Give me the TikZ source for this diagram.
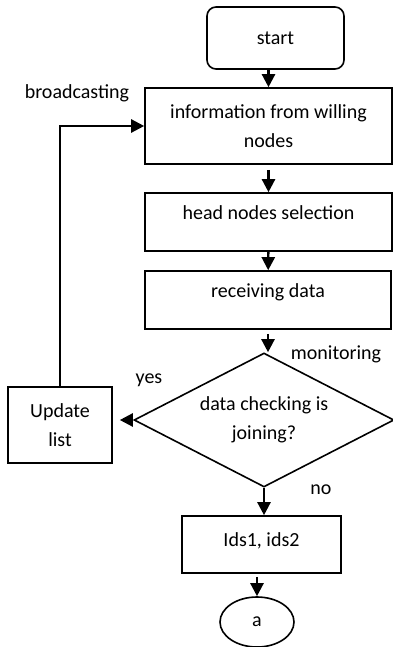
\documentclass[tikz,border=0pt]{standalone}
\usepackage{fontspec}
\setmainfont{Carlito}
\usetikzlibrary{arrows.meta, positioning, shapes.geometric}

\begin{document}
\begin{tikzpicture}[x=1pt, y=-1pt,
  box/.style={draw, line width=1.6pt, inner sep=0pt, align=center,
              font=\fontsize{20}{29}\selectfont},
  lbl/.style={font=\fontsize{20}{29}\selectfont, inner sep=0pt},
  flow/.style={line width=2.4pt, -{Triangle[length=13pt, width=13pt]}}]
\useasboundingbox (0,0) rectangle (393,647);
%%── Main column ─────────────────────────────────────────
\node[box, rounded corners=9pt, minimum width=137pt, minimum height=62pt]
     (start) at (275.5,38) {start};
\node[box, minimum width=247pt, minimum height=76pt]
     (info) at (268.5,126) {information from willing\\nodes};
\node[box, minimum width=247pt, minimum height=58pt, text depth=18pt]
     (head) at (268.5,222) {head nodes selection};
\node[box, minimum width=246pt, minimum height=58pt, text depth=18pt]
     (recv) at (268,300) {receiving data};
\node[box, diamond, aspect=1.94, minimum width=260pt, minimum height=134pt]
     (check) at (264,420) {data checking is\\joining?};
\node[box, minimum width=159pt, minimum height=57pt, text depth=10pt]
     (ids) at (261.5,544.5) {Ids1, ids2};
\node[box, ellipse, minimum width=74pt, minimum height=50pt]
     (oval) at (257,622) {a};
%%── Side branch ─────────────────────────────────────────
\node[box, minimum width=104pt, minimum height=76pt]
     (update) at (60,425) {Update\\list};
%%── Labels ──────────────────────────────────────────────
\node[lbl] (bcast) at (77,93)  {broadcasting};
\node[lbl] (mon)   at (336,354) {monitoring};
\node[lbl] (yes)   at (149,380) {yes};
\node[lbl] (no)    at (321,490) {no};
%%── Connectors ──────────────────────────────────────────
\draw[flow] (info.north |- start.south) -- (info.north);
\draw[flow, shorten <=5pt] (info) -- (head);
\draw[flow] (head) -- (recv);
\draw[flow, shorten <=4pt] (recv.south) -- (recv.south |- check.north);
\draw[flow] (check.south) -- (check.south |- ids.north);
\draw[flow, shorten <=3pt] (oval.north |- ids.south) -- (oval);
\draw[flow, shorten >=7pt] (check.west) -- (check.west -| update.east);
\draw[flow] (update.north) |- (info.west);
\end{tikzpicture}
\end{document}
